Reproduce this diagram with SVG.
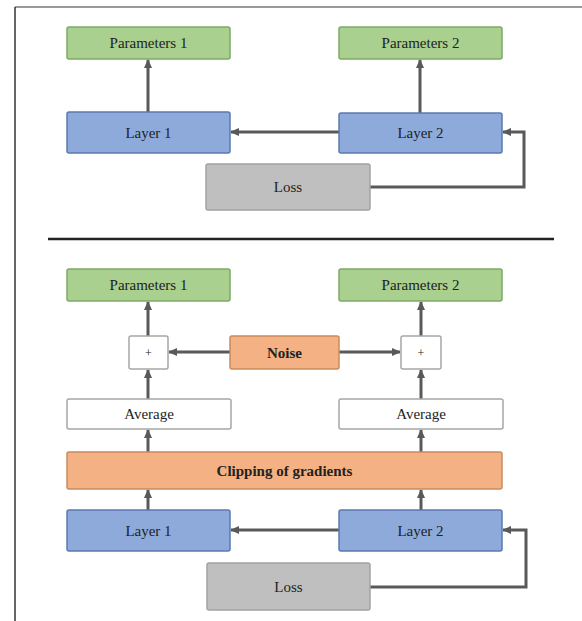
<svg xmlns="http://www.w3.org/2000/svg" width="582" height="621" viewBox="0 0 582 621">
<style>
  .t{font-family:"Liberation Serif","Times New Roman",serif;font-size:15px;fill:#222;text-anchor:middle;dominant-baseline:central}
  .b{font-weight:bold}
  .green{fill:#a9d08e;stroke:#7fa866;stroke-width:1.5}
  .blue{fill:#8eaadb;stroke:#5b79b0;stroke-width:1.5}
  .gray{fill:#bfbfbf;stroke:#a3a3a3;stroke-width:1.5}
  .orange{fill:#f4b183;stroke:#c98a5c;stroke-width:1.5}
  .white{fill:#fff;stroke:#a6a6a6;stroke-width:1.5}
  .c{fill:none;stroke:#595959;stroke-width:3}
</style>
<defs>
  <marker id="ah" markerUnits="userSpaceOnUse" markerWidth="10" markerHeight="10" refX="8" refY="5" orient="auto">
    <path d="M0,1 L9,5 L0,9 Z" fill="#595959"/>
  </marker>
</defs>
<rect width="582" height="621" fill="#fff"/>
<g id="frame">
  <line x1="15" y1="7" x2="582" y2="7" stroke="#777" stroke-width="1.5"/>
  <line x1="15" y1="7" x2="15" y2="621" stroke="#333" stroke-width="1.5"/>
  <line x1="48" y1="239" x2="554" y2="239" stroke="#222" stroke-width="2.5"/>
</g>
<g id="connectors">
  <line class="c" x1="148" y1="112" x2="148" y2="60" marker-end="url(#ah)"/>
  <line class="c" x1="420" y1="113" x2="420" y2="60" marker-end="url(#ah)"/>
  <line class="c" x1="339" y1="132" x2="231" y2="132" marker-end="url(#ah)"/>
  <path class="c" d="M370,187 H524 V132 H503" marker-end="url(#ah)"/>

  <line class="c" x1="148" y1="336" x2="148" y2="302" marker-end="url(#ah)"/>
  <line class="c" x1="148" y1="399" x2="148" y2="370" marker-end="url(#ah)"/>
  <line class="c" x1="148" y1="452" x2="148" y2="430" marker-end="url(#ah)"/>
  <line class="c" x1="148" y1="510" x2="148" y2="490" marker-end="url(#ah)"/>
  <line class="c" x1="421" y1="336" x2="421" y2="302" marker-end="url(#ah)"/>
  <line class="c" x1="421" y1="399" x2="421" y2="370" marker-end="url(#ah)"/>
  <line class="c" x1="421" y1="452" x2="421" y2="430" marker-end="url(#ah)"/>
  <line class="c" x1="421" y1="510" x2="421" y2="490" marker-end="url(#ah)"/>
  <line class="c" x1="230" y1="352" x2="169" y2="352" marker-end="url(#ah)"/>
  <line class="c" x1="339" y1="352" x2="400" y2="352" marker-end="url(#ah)"/>
  <line class="c" x1="339" y1="530" x2="231" y2="530" marker-end="url(#ah)"/>
  <path class="c" d="M370,587 H526 V530 H503" marker-end="url(#ah)"/>
</g>
<g id="top-params1"><rect class="green" x="67" y="27" width="163" height="32" rx="2"/><text class="t" x="148.5" y="43">Parameters 1</text></g>
<g id="top-params2"><rect class="green" x="339" y="27" width="163" height="32" rx="2"/><text class="t" x="420.5" y="43">Parameters 2</text></g>
<g id="top-layer1"><rect class="blue" x="67" y="112" width="163" height="41" rx="2"/><text class="t" x="148.5" y="132.5">Layer 1</text></g>
<g id="top-layer2"><rect class="blue" x="339" y="113" width="163" height="40" rx="2"/><text class="t" x="420.5" y="133">Layer 2</text></g>
<g id="top-loss"><rect class="gray" x="206" y="164" width="164" height="46" rx="2"/><text class="t" x="288" y="187">Loss</text></g>

<g id="bot-params1"><rect class="green" x="67" y="269" width="163" height="32" rx="2"/><text class="t" x="148.5" y="285">Parameters 1</text></g>
<g id="bot-params2"><rect class="green" x="339" y="269" width="163" height="32" rx="2"/><text class="t" x="420.5" y="285">Parameters 2</text></g>
<g id="plus1"><rect class="white" x="129" y="336" width="39" height="33" rx="2"/><text class="t" x="148.5" y="352.5" style="font-size:12px">+</text></g>
<g id="noise"><rect class="orange" x="230" y="336" width="109" height="33" rx="2"/><text class="t b" x="284.5" y="352.5">Noise</text></g>
<g id="plus2"><rect class="white" x="401" y="336" width="40" height="33" rx="2"/><text class="t" x="421" y="352.5" style="font-size:12px">+</text></g>
<g id="average1"><rect class="white" x="67" y="399" width="164" height="30" rx="2"/><text class="t" x="149" y="414">Average</text></g>
<g id="average2"><rect class="white" x="339" y="399" width="164" height="30" rx="2"/><text class="t" x="421" y="414">Average</text></g>
<g id="clipping"><rect class="orange" x="67" y="452" width="435" height="37" rx="2"/><text class="t b" x="284.5" y="470.5">Clipping of gradients</text></g>
<g id="bot-layer1"><rect class="blue" x="67" y="510" width="163" height="41" rx="2"/><text class="t" x="148.5" y="530.5">Layer 1</text></g>
<g id="bot-layer2"><rect class="blue" x="339" y="510" width="163" height="41" rx="2"/><text class="t" x="420.5" y="530.5">Layer 2</text></g>
<g id="bot-loss"><rect class="gray" x="207" y="563" width="163" height="47" rx="2"/><text class="t" x="288.5" y="586.5">Loss</text></g>
</svg>
